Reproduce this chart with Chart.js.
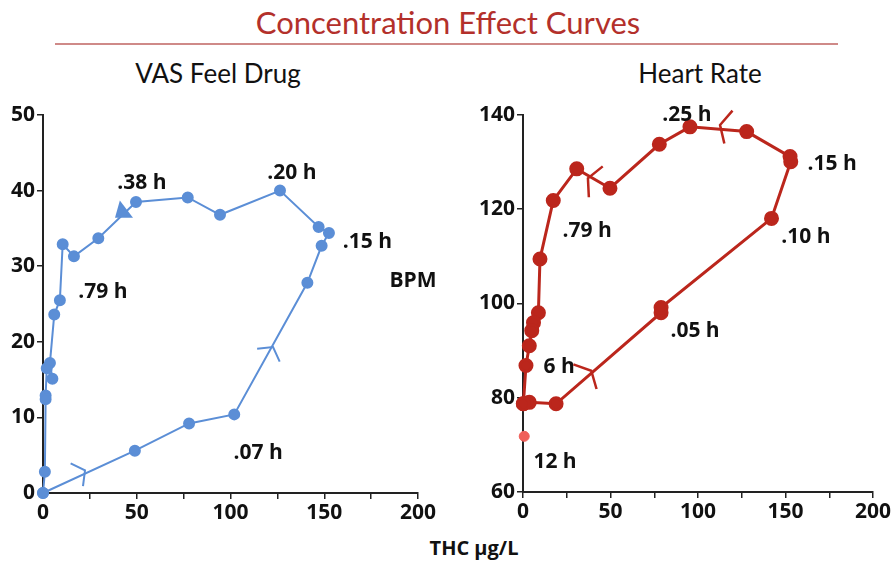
<!DOCTYPE html>
<html>
<head>
<meta charset="utf-8">
<script src="https://cdn.jsdelivr.net/npm/chart.js@4.4.1/dist/chart.umd.min.js"></script>
<style>
  body { margin: 0; background: #fff; width: 896px; height: 561px; position: relative; overflow: hidden; font-family: "Open Sans", sans-serif; }
  #title { position: absolute; top: 3px; left: 0; width: 896px; text-align: center; font-family: Lato, sans-serif; font-size: 31px; color: #b3302b; }
  #rule { position: absolute; top: 43px; left: 55px; width: 783px; height: 2px; background: #cf8a88; }
  .sub { position: absolute; top: 57px; font-family: Lato, sans-serif; font-size: 26px; color: #111; text-align: center; width: 300px; }
  #xlab { position: absolute; top: 534px; left: 374px; width: 200px; text-align: center; font-weight: 700; font-size: 20px; color: #111; }
  canvas { position: absolute; }
</style>
</head>
<body>
<div id="title">Concentration Effect Curves</div>
<div id="rule"></div>
<div class="sub" style="left:68px">VAS Feel Drug</div>
<div class="sub" style="left:550px">Heart Rate</div>
<div id="xlab">THC µg/L</div>
<canvas id="vasChart" width="445" height="430" style="left:0;top:100px"></canvas>
<canvas id="hrChart" width="446" height="430" style="left:450px;top:100px"></canvas>
<script>
// VAS "feel drug" vs THC concentration (time order)
const vasThc   = [0, 49, 77.9, 102, 141, 148.6, 152.5, 147, 126.4, 94.4, 77.2, 49.6, 29.5, 16.5, 10.5, 9, 6, 3.7, 5, 2, 1.4, 1.4, 1, 0];
const vasScore = [0, 5.6, 9.2, 10.4, 27.8, 32.7, 34.4, 35.2, 40, 36.8, 39.1, 38.5, 33.7, 31.3, 32.9, 25.5, 23.6, 17.2, 15.1, 16.5, 12.9, 12.4, 2.8, 0];

// heart rate vs THC concentration (time order)
const hrThc = [0.2, 3.6, 18.9, 78.9, 78.9, 142, 153, 152.6, 127.8, 95.4, 77.9, 49.7, 30.7, 17.3, 9.7, 8.8, 6, 5, 3.6, 1.7, 0.2];
const hrBpm = [78.7, 79, 78.7, 98, 99.1, 118, 130, 131.1, 136.4, 137.4, 133.7, 124.4, 128.5, 121.8, 109.4, 98, 95.9, 94.2, 91, 86.8, 78.7];
const hrLateThc = [0.7];
const hrLateBpm = [71.8];

// text labels in data units
const vasLabelText = [".38 h", ".20 h", ".15 h", ".79 h", ".07 h", "BPM"];
const vasLabelX = [52.8, 132.8, 173, 32, 114.7, 197.3];
const vasLabelY = [41, 42.3, 33.2, 26.6, 5.3, 28];
const hrLabelText = [".25 h", ".15 h", ".10 h", ".79 h", ".05 h", "6 h", "12 h"];
const hrLabelX = [93.7, 176.6, 161.7, 36.6, 98.3, 20.6, 18.3];
const hrLabelY = [140, 129.6, 114, 115.3, 94.2, 86.4, 66.3];

// direction arrows: tip x, tip y, from x, from y, style
const vasArrows = [[22.4, 3.0, 0, 0, "open"], [122.7, 19.3, 102, 10.4, "open"], [38.4, 36.4, 49.6, 38.5, "solid"]];
const hrArrows = [[39, 85.7, 18.9, 78.7, "open"], [37.1, 126.5, 49.7, 124.4, "open"], [112.6, 137.8, 127.8, 136.4, "open"]];

const tickFont = { family: "Open Sans", size: 21, weight: "700" };

function zip(xs, ys) { return xs.map((x, i) => ({ x: x, y: ys[i] })); }

function overlay(id, texts, xs, ys, arrows, color, armLen, armAng, armWidth) {
    return {
        id: id,
        afterDatasetsDraw(chart) {
            const ctx = chart.ctx, sx = chart.scales.x, sy = chart.scales.y;
            ctx.save();
            ctx.fillStyle = "#111";
            ctx.font = "700 21px 'Open Sans'";
            ctx.textAlign = "center";
            ctx.textBaseline = "middle";
            texts.forEach((t, i) => ctx.fillText(t, sx.getPixelForValue(xs[i]), sy.getPixelForValue(ys[i])));
            ctx.strokeStyle = color;
            ctx.fillStyle = color;
            ctx.lineWidth = armWidth;
            arrows.forEach(a => {
                const tx = sx.getPixelForValue(a[0]), ty = sy.getPixelForValue(a[1]);
                const fx = sx.getPixelForValue(a[2]), fy = sy.getPixelForValue(a[3]);
                const ang = Math.atan2(ty - fy, tx - fx);
                if (a[4] === "solid") {
                    ctx.beginPath();
                    ctx.moveTo(tx, ty);
                    ctx.lineTo(tx + 18 * Math.cos(ang + Math.PI - 0.65), ty + 18 * Math.sin(ang + Math.PI - 0.65));
                    ctx.lineTo(tx + 18 * Math.cos(ang + Math.PI + 0.65), ty + 18 * Math.sin(ang + Math.PI + 0.65));
                    ctx.closePath();
                    ctx.fill();
                } else {
                    ctx.beginPath();
                    ctx.moveTo(tx + armLen * Math.cos(ang + Math.PI - armAng), ty + armLen * Math.sin(ang + Math.PI - armAng));
                    ctx.lineTo(tx, ty);
                    ctx.lineTo(tx + armLen * Math.cos(ang + Math.PI + armAng), ty + armLen * Math.sin(ang + Math.PI + armAng));
                    ctx.stroke();
                }
            });
            ctx.restore();
        }
    };
}

function axes(ymin, ymax, ystep, yWidth, xHeight) {
    const grid = { drawOnChartArea: false, drawTicks: true, tickLength: 6, color: "#222", lineWidth: 1.5 };
    const border = { color: "#222", width: 2 };
    return {
        x: {
            type: "linear", min: 0, max: 200,
            ticks: { stepSize: 25, autoSkip: false, maxRotation: 0, color: "#111", font: tickFont, padding: 1,
                     callback: v => (v % 50 === 0 ? v : "") },
            grid: grid, border: border,
            afterFit: s => { s.height = xHeight; }
        },
        y: {
            min: ymin, max: ymax,
            ticks: { stepSize: ystep, color: "#111", font: tickFont, padding: 2 },
            grid: grid, border: border,
            afterFit: s => { s.width = yWidth; }
        }
    };
}

const baseOpts = {
    responsive: false,
    animation: false,
    devicePixelRatio: 1,
    plugins: { legend: { display: false }, tooltip: { enabled: false } }
};

const blue = "#5b8ed6";
new Chart(document.getElementById("vasChart"), {
    type: "scatter",
    data: {
        datasets: [{
            data: zip(vasThc, vasScore),
            showLine: true,
            borderColor: blue, borderWidth: 2,
            pointBackgroundColor: blue, pointBorderColor: blue,
            pointRadius: 5, clip: false
        }]
    },
    options: Object.assign({}, baseOpts, {
        layout: { padding: { top: 15, right: 27, left: 0, bottom: 0 } },
        scales: axes(0, 50, 10, 43, 37)
    }),
    plugins: [overlay("vasOverlay", vasLabelText, vasLabelX, vasLabelY, vasArrows, blue, 16, 0.95, 2)]
});

const red = "#bb261c";
new Chart(document.getElementById("hrChart"), {
    type: "scatter",
    data: {
        datasets: [{
            data: zip(hrThc, hrBpm),
            showLine: true,
            borderColor: red, borderWidth: 3,
            pointBackgroundColor: red, pointBorderColor: red,
            pointRadius: 6, clip: false
        }, {
            data: zip(hrLateThc, hrLateBpm),
            showLine: false,
            pointBackgroundColor: "#f0605a", pointBorderColor: "#f0605a",
            pointRadius: 5, clip: false
        }]
    },
    options: Object.assign({}, baseOpts, {
        layout: { padding: { top: 13, right: 23, left: 0, bottom: 0 } },
        scales: axes(60, 140, 20, 73, 38)
    }),
    plugins: [overlay("hrOverlay", hrLabelText, hrLabelX, hrLabelY, hrArrows, red, 19, 1.1, 2.5)]
});
</script>
</body>
</html>
